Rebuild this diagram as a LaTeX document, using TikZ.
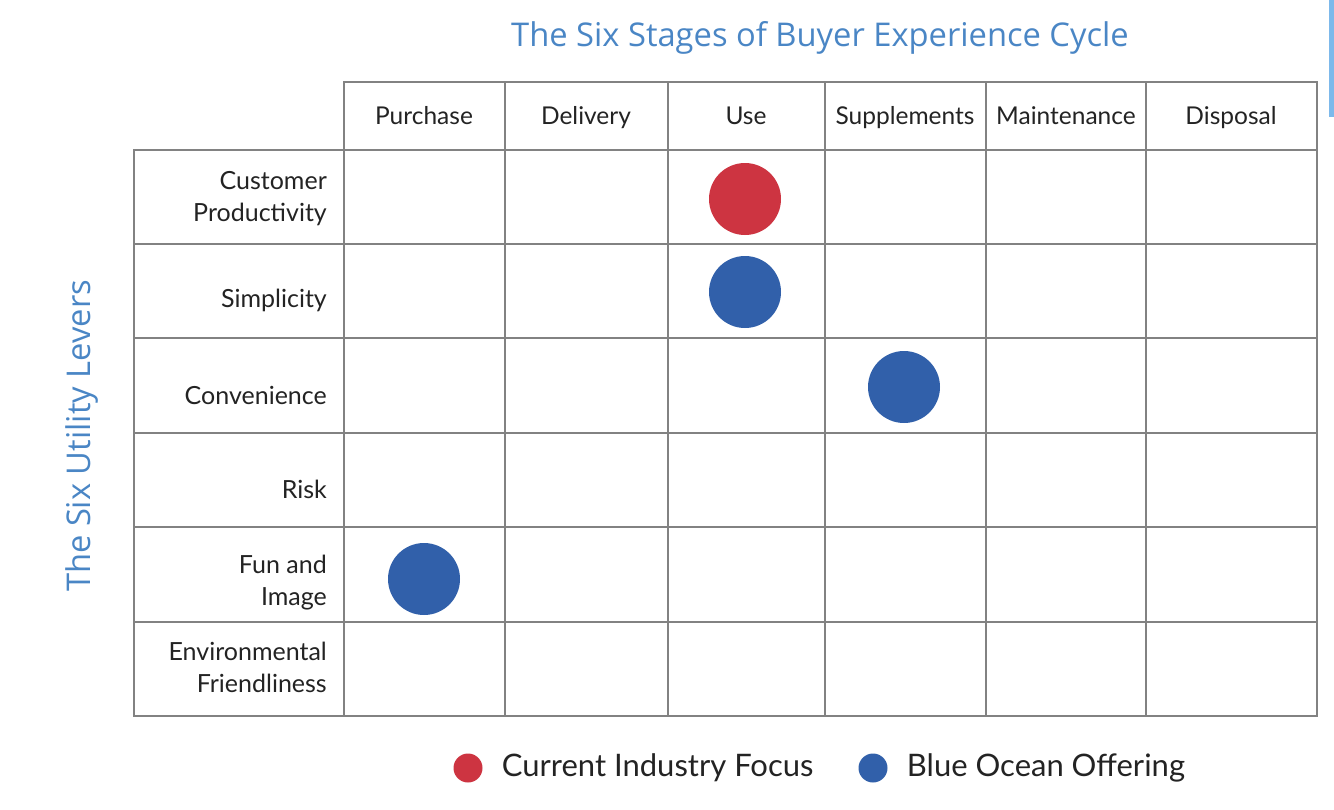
\documentclass[tikz,border=0pt]{standalone}
\usepackage{fontspec}
\setmainfont{Lato}
\newfontfamily\titlefont{Open Sans}
\usetikzlibrary{positioning}
\definecolor{gridgray}{RGB}{130,130,130}
\definecolor{titleblue}{RGB}{74,134,197}
\definecolor{focusred}{RGB}{205,52,65}
\definecolor{oceanblue}{RGB}{49,96,170}
\definecolor{labeltext}{RGB}{35,35,35}
\definecolor{edgeblue}{RGB}{125,185,235}

\begin{document}
\begin{tikzpicture}[x=1pt, y=-1pt,
    gridline/.style={draw=gridgray, line width=1.6pt},
    colhead/.style={anchor=base, inner sep=0pt, font=\fontsize{24.5}{28}\selectfont, text=labeltext},
    rowhead/.style={anchor=east, align=right, inner sep=0pt, font=\fontsize{25}{32}\selectfont, text=labeltext},
    dot/.style={circle, inner sep=0pt, minimum size=72pt},
    keydot/.style={circle, inner sep=0pt, minimum size=29pt},
    legendtext/.style={anchor=west, inner sep=0pt, font=\fontsize{31}{34}\selectfont, text=labeltext},
    axistitle/.style={font=\titlefont\fontsize{32.7}{36}\selectfont, text=titleblue}
]
    \useasboundingbox (0,0) rectangle (1334,809);
    \fill[edgeblue] (1329,0) rectangle (1334,117);

    % titles
    \node[axistitle] (stages) at (820,38) {The Six Stages of Buyer Experience Cycle};
    \node[axistitle, rotate=90] (levers) at (82,436) {The Six Utility Levers};

    % grid
    \draw[gridline] (344,82) rectangle (1317,150);
    \draw[gridline] (134,150) rectangle (1317,716);
    \foreach \x in {344,505,668,825,986,1146}
        \draw[gridline] (\x,82) -- (\x,716);
    \foreach \y in {244,338,433,527,622}
        \draw[gridline] (134,\y) -- (1317,\y);

    % stages
    \node[colhead] (purchase) at (424,124) {Purchase};
    \node[colhead] (delivery) at (586,124) {Delivery};
    \node[colhead] (use) at (746,124) {Use};
    \node[colhead] (supplements) at (905,124) {Supplements};
    \node[colhead] (maintenance) at (1066,124) {Maintenance};
    \node[colhead] (disposal) at (1231,124) {Disposal};

    % levers
    \node[rowhead] (productivity) at (327,199) {Customer\\Productivity};
    \node[rowhead] (simplicity) at (327,300) {Simplicity};
    \node[rowhead] (convenience) at (327,395) {Convenience};
    \node[rowhead] (risk) at (327,489) {Risk};
    \node[rowhead] (fun) at (327,583) {Fun and\\Image};
    \node[rowhead] (environment) at (327,667) {Environmental\\Friendliness};

    % offerings
    \node[dot, fill=focusred] (focususe) at (745,199) {};
    \node[dot, fill=oceanblue] (simpleuse) at (745,292) {};
    \node[dot, fill=oceanblue] (convsupp) at (904,387) {};
    \node[dot, fill=oceanblue] (funbuy) at (424,579) {};

    % legend
    \node[keydot, fill=focusred] (keyred) at (468,768) {};
    \node[legendtext, right=19pt of keyred] (keyredtext) {Current Industry Focus};
    \node[keydot, fill=oceanblue] (keyblue) at (873,768) {};
    \node[legendtext, right=19pt of keyblue] (keybluetext) {Blue Ocean Offering};
\end{tikzpicture}
\end{document}
